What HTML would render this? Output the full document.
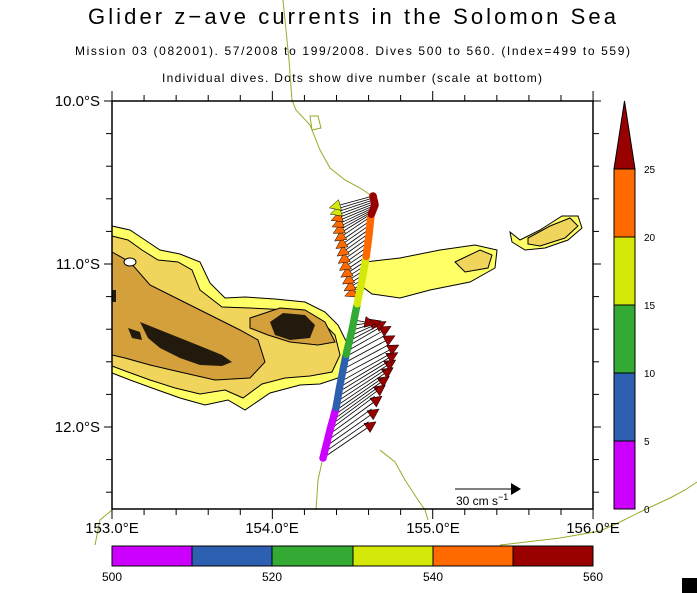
<!DOCTYPE html>
<html><head><style>
body{margin:0;background:#fff;}
svg{display:block;font-family:"Liberation Sans",sans-serif;}
</style></head><body>
<svg id="s" width="697" height="593" viewBox="0 0 697 593" xmlns="http://www.w3.org/2000/svg">
<rect width="697" height="593" fill="#fff"/>
<text x="88" y="24" font-size="22" textLength="528" lengthAdjust="spacing" fill="#000">Glider z−ave currents in the Solomon Sea</text>
<text x="75" y="55" font-size="12" textLength="555" lengthAdjust="spacing">Mission 03 (082001). 57/2008 to 199/2008. Dives 500 to 560. (Index=499 to 559)</text>
<text x="162" y="82" font-size="12" textLength="380" lengthAdjust="spacing">Individual dives. Dots show dive number (scale at bottom)</text>

<path d="M112,226 L130,230 145,240 160,250 180,254 200,262 210,283 225,298 245,297 275,299 305,302 325,312 338,325 348,345 346,362 338,378 320,384 300,385 270,393 245,410 228,400 205,405 180,398 152,388 130,380 112,373 Z" fill="#ffff66" stroke="#000" stroke-width="1"/>
<path d="M112,236 L128,240 142,250 158,260 178,262 192,270 200,290 222,307 250,308 290,310 318,318 335,335 340,355 332,372 310,376 285,378 262,384 243,398 225,390 200,394 175,388 150,380 128,372 112,366 Z" fill="#f0d45c" stroke="#000" stroke-width="1"/>
<path d="M112,252 L130,262 150,285 180,300 210,315 240,330 258,340 265,362 250,378 215,380 180,372 150,365 125,358 112,355 Z" fill="#d4a03c" stroke="#000" stroke-width="1"/>
<path d="M250,318 L280,308 305,310 325,322 335,342 318,345 290,342 268,335 250,328 Z" fill="#d4a03c" stroke="#000" stroke-width="1"/>
<path d="M140,322 L160,330 185,340 205,348 222,355 232,362 222,366 200,365 180,358 160,348 148,338 Z" fill="#221a0c"/>
<path d="M270,322 L283,313 305,315 315,325 310,338 290,340 275,335 Z" fill="#221a0c"/>
<path d="M128,328 L140,332 142,340 132,338 Z M112,290 L116,290 116,302 112,302 Z" fill="#221a0c"/>
<ellipse cx="130" cy="262" rx="6" ry="4" fill="#fff" stroke="#000"/>
<path d="M365,262 L400,258 440,250 475,245 497,250 495,268 470,282 430,290 400,298 372,294 360,285 Z" fill="#ffff66" stroke="#000"/>
<path d="M455,262 L480,250 492,255 488,268 465,272 Z" fill="#f0d45c" stroke="#000"/>
<path d="M510,232 L520,240 540,230 562,216 578,216 582,228 568,240 545,248 525,250 512,242 Z" fill="#ffff66" stroke="#000"/>
<path d="M528,238 L550,226 570,218 578,226 565,238 540,246 528,244 Z" fill="#f0d45c" stroke="#000"/>

<g fill="none" stroke="#9aaa2a" stroke-width="1">
<path d="M283,0 L286,30 289,60 292,100 296,110 310,125 320,150 330,168 345,180 360,188 372,196"/>
<path d="M310,116 L318,116 321,128 312,130 Z"/>
<path d="M380,450 L395,462 405,480 418,500 425,510 428,520"/>
<path d="M322,462 L318,480 316,510"/>
<path d="M500,545 L560,538 600,531 620,522 640,512 655,505 670,498 685,490 697,482"/>
<path d="M112,510 L100,520 95,545"/>
</g>
<g id="trk"></g>

<rect x="112" y="101" width="481" height="408" fill="none" stroke="#000" stroke-width="1.5"/>
<g id="ticks" stroke="#000" stroke-width="1"></g>
<g font-size="15" fill="#000">
<text x="100" y="106" text-anchor="end">10.0°S</text>
<text x="100" y="269" text-anchor="end">11.0°S</text>
<text x="100" y="432" text-anchor="end">12.0°S</text>
<text x="112" y="533" text-anchor="middle">153.0°E</text>
<text x="272" y="533" text-anchor="middle">154.0°E</text>
<text x="433" y="533" text-anchor="middle">155.0°E</text>
<text x="593" y="533" text-anchor="middle">156.0°E</text>
</g>
<line x1="455" y1="489" x2="512" y2="489" stroke="#000"/>
<path d="M511,483 L521,489 511,495 Z" fill="#000"/>
<text x="456" y="505" font-size="12">30 cm s<tspan dy="-5" font-size="9">−1</tspan></text>

<g stroke="#000" stroke-width="1">
<rect x="614" y="441" width="21" height="68" fill="#cc00ff"/>
<rect x="614" y="373" width="21" height="68" fill="#2d5fb0"/>
<rect x="614" y="305" width="21" height="68" fill="#33aa33"/>
<rect x="614" y="237" width="21" height="68" fill="#d4e80a"/>
<rect x="614" y="169" width="21" height="68" fill="#ff6a00"/>
<path d="M614,169 L624.5,101 635,169 Z" fill="#990000"/>
</g>
<g font-size="10">
<text x="644" y="513">0</text><text x="644" y="445">5</text><text x="644" y="377">10</text>
<text x="644" y="309">15</text><text x="644" y="241">20</text><text x="644" y="173">25</text>
</g>
<g stroke="#000" stroke-width="1">
<rect x="112" y="546" width="80" height="20" fill="#cc00ff"/>
<rect x="192" y="546" width="80" height="20" fill="#2d5fb0"/>
<rect x="272" y="546" width="81" height="20" fill="#33aa33"/>
<rect x="353" y="546" width="80" height="20" fill="#d4e80a"/>
<rect x="433" y="546" width="80" height="20" fill="#ff6a00"/>
<rect x="513" y="546" width="80" height="20" fill="#990000"/>
</g>
<g font-size="12" text-anchor="middle">
<text x="112" y="581">500</text><text x="272" y="581">520</text><text x="433" y="581">540</text><text x="593" y="581">560</text>
</g>
<rect x="682" y="578" width="15" height="15" fill="#000"/>
</svg>
<script>
var ns="http://www.w3.org/2000/svg",s=document.getElementById('trk'),t=document.getElementById('ticks');
function el(n,a,p){var e=document.createElementNS(ns,n);for(var k in a)e.setAttribute(k,a[k]);(p||s).appendChild(e);return e;}
for(var i=0;i<=15;i++){var x=112+i*32.07;el('line',{x1:x,y1:101,x2:x,y2:i%5?95:91},t);el('line',{x1:x,y1:509,x2:x,y2:i%5?515:519},t);}
for(var j=0;j<=12;j++){var y=101+j*32.6;if(y>509)break;el('line',{x1:112,y1:y,x2:j%5?106:104,y2:y},t);el('line',{x1:593,y1:y,x2:j%5?599:601,y2:y},t);}
var pts=[[323,458],[330,430],[336,408],[340,385],[346,355],[352,330],[357,305],[362,280],[366,258],[369,235],[371,215],[375,205],[373,196]];
function interp(f){var n=pts.length-1,p=f*n,i=Math.min(Math.floor(p),n-1),r=p-i;return[pts[i][0]+(pts[i+1][0]-pts[i][0])*r,pts[i][1]+(pts[i+1][1]-pts[i][1])*r];}
function lerpPath(P,g){var n=P.length-1,p=g*n,i=Math.min(Math.floor(p),n-1),r=p-i;return[P[i][0]+(P[i+1][0]-P[i][0])*r,P[i][1]+(P[i+1][1]-P[i][1])*r];}
var cols=['#cc00ff','#2d5fb0','#33aa33','#d4e80a','#ff6a00','#990000'];
var low=[[367,428],[375,395],[385,372],[390,352],[380,328],[365,322]];
var up=[[355,292],[348,262],[343,230],[340,205]];
function arrow(d,h,c,head){el('line',{x1:d[0],y1:d[1],x2:h[0],y2:h[1],stroke:'#000','stroke-width':0.8});
 if(!head)return;
 var a=Math.atan2(h[1]-d[1],h[0]-d[0]),L=11,W=5.5;
 el('path',{d:'M'+(h[0]+Math.cos(a)*L)+','+(h[1]+Math.sin(a)*L)+' L'+(h[0]-Math.sin(a)*W)+','+(h[1]+Math.cos(a)*W)+' L'+(h[0]+Math.sin(a)*W)+','+(h[1]-Math.cos(a)*W)+'Z',fill:c,stroke:'#000','stroke-width':0.5});}
for(var k=0;k<=26;k++){var g=k/26,d=interp(g*0.45);arrow(d,lerpPath(low,g),'#990000',k%2==0);}
for(var k=0;k<=26;k++){var g=k/26,d=interp(0.55+g*0.45);arrow(d,lerpPath(up,g),g>0.9?'#d4e80a':'#ff6a00',k%2==0);}
for(var k=0;k<120;k++){var f=k/119,d=interp(f);el('circle',{cx:d[0],cy:d[1],r:3.8,fill:cols[Math.min(5,Math.floor(f*6))]});}
</script>
</body></html>
